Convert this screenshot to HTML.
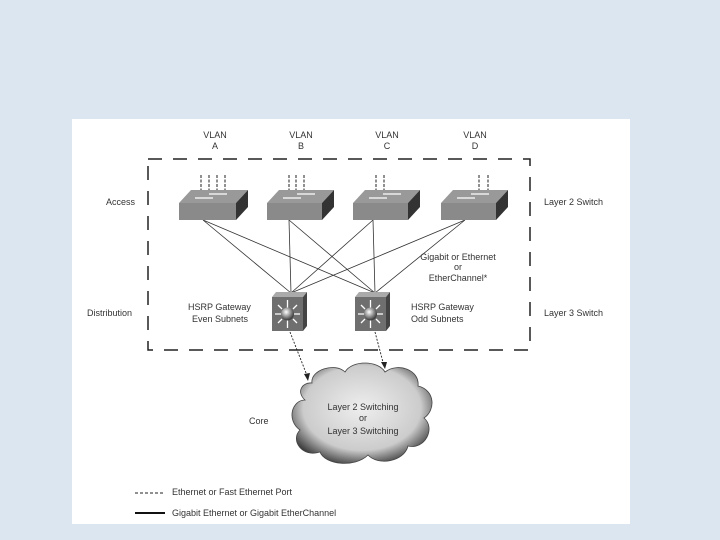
<!DOCTYPE html>
<html><head><meta charset="utf-8"><style>
html,body{margin:0;padding:0;background:#dce6f1;width:720px;height:540px;overflow:hidden}
svg{position:absolute;left:0;top:0}
text{font-family:"Liberation Sans",sans-serif;font-size:9px;fill:#333}
</style></head><body>
<svg width="720" height="540" viewBox="0 0 720 540">
<defs>
<radialGradient id="cl" cx="50%" cy="45%" r="60%"><stop offset="0" stop-color="#eee"/><stop offset="0.7" stop-color="#ccc"/><stop offset="1" stop-color="#333"/></radialGradient>
<radialGradient id="ball" cx="40%" cy="35%" r="60%"><stop offset="0" stop-color="#fff"/><stop offset="1" stop-color="#444"/></radialGradient>
</defs>
<rect x="72" y="119" width="558" height="405" fill="#fff"/>
<rect x="148" y="159" width="382" height="191" fill="none" stroke="#222" stroke-width="1.5" stroke-dasharray="14,11"/>
<g text-anchor="middle">
<text x="215" y="138">VLAN</text><text x="215" y="149">A</text>
<text x="301" y="138">VLAN</text><text x="301" y="149">B</text>
<text x="387" y="138">VLAN</text><text x="387" y="149">C</text>
<text x="475" y="138">VLAN</text><text x="475" y="149">D</text>
</g>
<text x="106" y="205">Access</text>
<text x="87" y="316">Distribution</text>
<text x="249" y="424">Core</text>
<text x="544" y="205">Layer 2 Switch</text>
<text x="544" y="316">Layer 3 Switch</text>
<text x="188" y="310">HSRP Gateway</text><text x="192" y="322">Even Subnets</text>
<text x="411" y="310">HSRP Gateway</text><text x="411" y="322">Odd Subnets</text>
<g text-anchor="middle"><text x="458" y="260">Gigabit or Ethernet</text><text x="458" y="270" font-size="7">or</text><text x="458" y="281">EtherChannel*</text></g>
<g stroke="#222" stroke-width="1" stroke-dasharray="3,1.5">
<path d="M201 175V192M209 175V192M217 175V192M225 175V192M289 175V192M296 175V192M304 175V192M376 175V192M384 175V192M479 175V192M488 175V192"/>
</g>
<g stroke="#333" stroke-width="0.8" fill="none">
<path d="M203 220L291 293M203 220L375 293M289 220L291 293M289 220L375 293M373 220L291 293M373 220L375 293M465 220L291 293M465 220L375 293"/>
</g>
<g>
<g transform="translate(179,0)"><path d="M0 203L12 190H69L57 203Z" fill="#999"/><path d="M57 203L69 190V207L57 220Z" fill="#333"/><rect x="0" y="203" width="57" height="17" fill="#8a8a8a"/><path d="M16 198h18M30 194h18" stroke="#eee" stroke-width="1.5"/></g>
<g transform="translate(267,0)"><path d="M0 203L12 190H67L55 203Z" fill="#999"/><path d="M55 203L67 190V207L55 220Z" fill="#333"/><rect x="0" y="203" width="55" height="17" fill="#8a8a8a"/><path d="M16 198h18M30 194h18" stroke="#eee" stroke-width="1.5"/></g>
<g transform="translate(353,0)"><path d="M0 203L12 190H67L55 203Z" fill="#999"/><path d="M55 203L67 190V207L55 220Z" fill="#333"/><rect x="0" y="203" width="55" height="17" fill="#8a8a8a"/><path d="M16 198h18M30 194h18" stroke="#eee" stroke-width="1.5"/></g>
<g transform="translate(441,0)"><path d="M0 203L12 190H67L55 203Z" fill="#999"/><path d="M55 203L67 190V207L55 220Z" fill="#333"/><rect x="0" y="203" width="55" height="17" fill="#8a8a8a"/><path d="M16 198h18M30 194h18" stroke="#eee" stroke-width="1.5"/></g>
</g>
<g transform="translate(272,0)"><path d="M0 297L4 292H35L31 297Z" fill="#aaa"/><path d="M31 297L35 292V326L31 331Z" fill="#444"/><rect x="0" y="297" width="31" height="34" fill="#6f6f6f"/><g stroke="#fff" stroke-width="1.3"><path d="M15.5 300V308M15.5 320V328M3 314H9M22 314H28M6 305L10 309M25 305L21 309M6 323L10 319M25 323L21 319"/></g><circle cx="15.5" cy="314" r="6.5" fill="url(#ball)"/></g>
<g transform="translate(355,0)"><path d="M0 297L4 292H35L31 297Z" fill="#aaa"/><path d="M31 297L35 292V326L31 331Z" fill="#444"/><rect x="0" y="297" width="31" height="34" fill="#6f6f6f"/><g stroke="#fff" stroke-width="1.3"><path d="M15.5 300V308M15.5 320V328M3 314H9M22 314H28M6 305L10 309M25 305L21 309M6 323L10 319M25 323L21 319"/></g><circle cx="15.5" cy="314" r="6.5" fill="url(#ball)"/></g>
<g stroke="#222" stroke-width="0.9" stroke-dasharray="2,1.5" fill="none"><path d="M290 332L308 378M375 332L384 366"/></g>
<path d="M308 381L304 374L310 373Z" fill="#222"/><path d="M385 369L381 362L387 362Z" fill="#222"/>
<path d="M312 383C310 370 335 362 345 372C352 360 378 360 385 372C398 362 420 370 418 386C435 390 436 410 424 418C436 428 425 450 408 446C404 462 378 466 368 455C355 468 325 465 320 452C302 458 290 440 300 430C286 420 292 400 305 400C296 392 302 382 312 383Z" fill="url(#cl)" stroke="#444" stroke-width="0.8"/>
<g text-anchor="middle"><text x="363" y="410">Layer 2 Switching</text><text x="363" y="421" font-size="7">or</text><text x="363" y="434">Layer 3 Switching</text></g>
<path d="M135 493H165" stroke="#222" stroke-width="1" stroke-dasharray="3,2"/>
<path d="M135 513H165" stroke="#111" stroke-width="2"/>
<text x="172" y="495">Ethernet or Fast Ethernet Port</text>
<text x="172" y="516">Gigabit Ethernet or Gigabit EtherChannel</text>
</svg>
</body></html>
